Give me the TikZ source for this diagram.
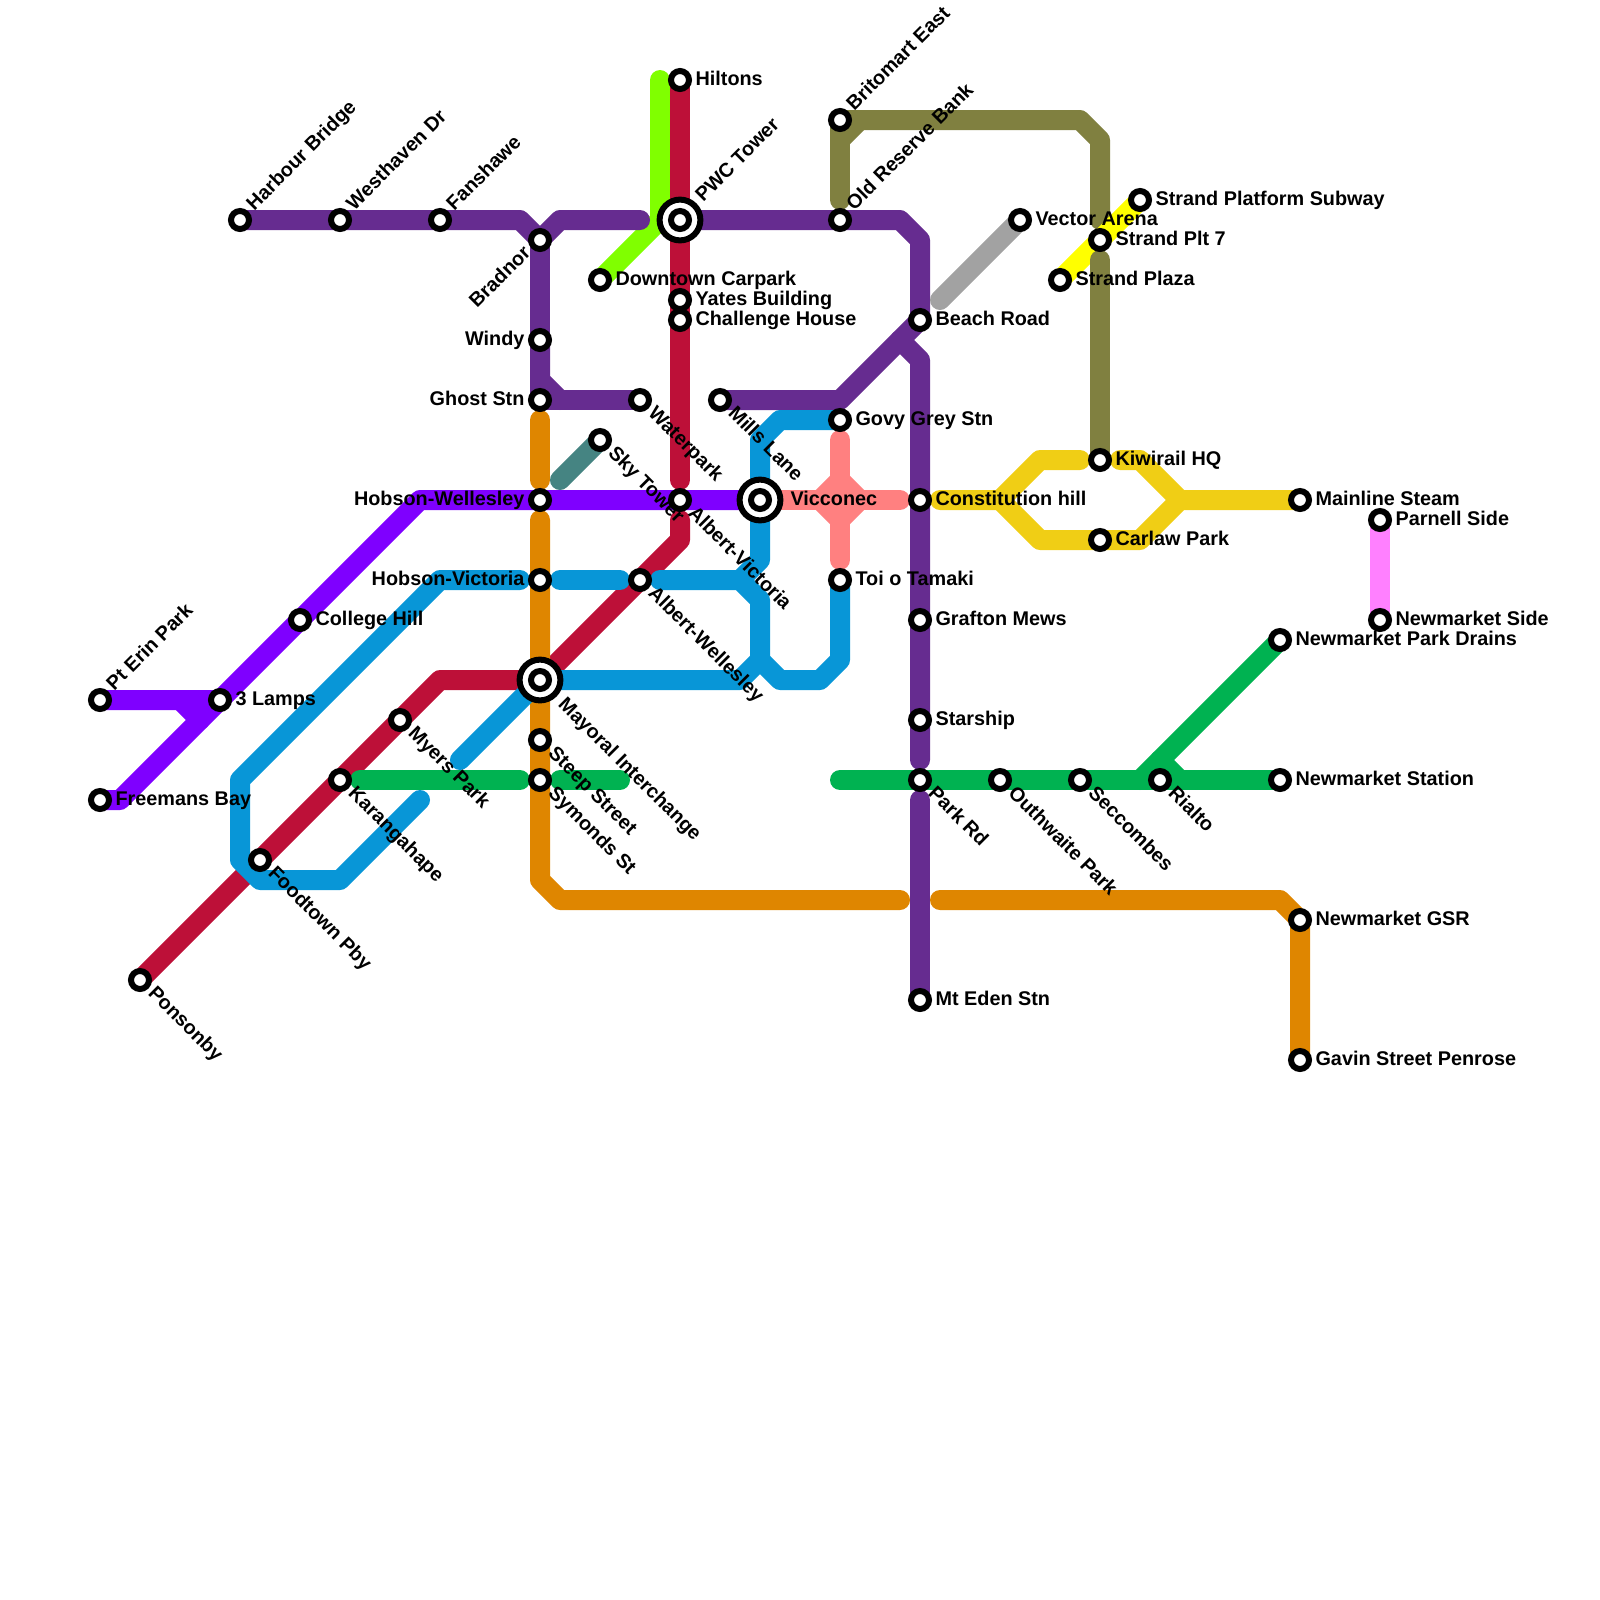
\documentclass[tikz,border=0pt]{standalone}
\usepackage{fontspec}
\setmainfont{Liberation Sans}
\usepackage{xcolor}
\usepackage{tikz}
\usetikzlibrary{positioning}
\definecolor{Plum}{HTML}{662C90}
\definecolor{Violet}{HTML}{7F00FF}
\definecolor{Crimson}{HTML}{BD1038}
\definecolor{Sea}{HTML}{0896D7}
\definecolor{Amber}{HTML}{DF8600}
\definecolor{Leaf}{HTML}{00B251}
\definecolor{Gold}{HTML}{F0CE15}
\definecolor{Olive}{HTML}{808040}
\definecolor{Salmon}{HTML}{FF8080}
\definecolor{Stone}{HTML}{A2A2A2}
\definecolor{Pine}{HTML}{458482}
\definecolor{Lime}{HTML}{80FF00}
\definecolor{Lemon}{HTML}{FFFF00}
\definecolor{Orchid}{HTML}{FF80FF}
\pgfdeclarelayer{lines}
\pgfdeclarelayer{names}
\pgfsetlayers{lines,main,names}
\tikzset{
  route/.style={line width=2.5mm,line cap=round,line join=round},
  halt/.style={circle,draw=black,fill=white,line width=.75mm,minimum size=2.25mm,inner sep=0pt,outer sep=0pt},
  hub/.style={circle,draw=black,fill=white,line width=.75mm,minimum size=5.1mm,inner sep=0pt,outer sep=0pt},
  lbl/.style={font=\fontsize{7.05}{8}\selectfont\bfseries,inner sep=0pt},
  lblE/.style={lbl,shift={(0.75,0.27)},anchor=base west},
  lblW/.style={lbl,shift={(-0.75,0.27)},anchor=base east},
  lblNE/.style={lbl,shift={(0.7,-0.42)},rotate=45,anchor=base west},
  lblSE/.style={lbl,shift={(0.35,0.7)},rotate=-45,anchor=base west},
  lblSW/.style={lbl,shift={(-0.4,0.7)},rotate=45,anchor=base east},
  lblHubE/.style={lbl,shift={(1.5,0.27)},anchor=base west},
  lblHubNE/.style={lbl,shift={(1.15,-0.85)},rotate=45,anchor=base west},
  lblHubSE/.style={lbl,shift={(0.85,1.25)},rotate=-45,anchor=base west}
}
\newcommand{\stn}[5]{%
  \node[halt] (#1) at (#2,#3) {};
  \begin{pgfonlayer}{names}\node[#4] (#1-name) at (#1) {#5};\end{pgfonlayer}}
\newcommand{\hubstn}[5]{%
  \node[hub] (#1) at (#2,#3) {};
  \node[halt] (#1-in) at (#1) {};
  \begin{pgfonlayer}{names}\node[#4] (#1-name) at (#1) {#5};\end{pgfonlayer}}

\begin{document}
\begin{tikzpicture}[x=2.5mm,y=-2.5mm]
    \useasboundingbox (0,0) rectangle (80,80);
    \stn{harbour}{12}{11}{lblNE}{Harbour Bridge}
    \stn{westhaven}{17}{11}{lblNE}{Westhaven Dr}
    \stn{fanshawe}{22}{11}{lblNE}{Fanshawe}
    \stn{bradnor}{27}{12}{lblSW}{Bradnor}
    \stn{windy}{27}{17}{lblW}{Windy}
    \stn{ghost}{27}{20}{lblW}{Ghost Stn}
    \stn{hobwell}{27}{25}{lblW}{Hobson-Wellesley}
    \stn{hobvic}{27}{29}{lblW}{Hobson-Victoria}
    \hubstn{mayoral}{27}{34}{lblHubSE}{Mayoral Interchange}
    \stn{steep}{27}{37}{lblSE}{Steep Street}
    \stn{symonds}{27}{39}{lblSE}{Symonds St}
    \stn{waterpark}{32}{20}{lblSE}{Waterpark}
    \stn{sky}{30}{22}{lblSE}{Sky Tower}
    \stn{downtown}{30}{14}{lblE}{Downtown Carpark}
    \stn{hiltons}{34}{4}{lblE}{Hiltons}
    \hubstn{pwc}{34}{11}{lblHubNE}{PWC Tower}
    \stn{yates}{34}{15}{lblE}{Yates Building}
    \stn{challenge}{34}{16}{lblE}{Challenge House}
    \stn{albvic}{34}{25}{lblSE}{Albert-Victoria}
    \stn{albwell}{32}{29}{lblSE}{Albert-Wellesley}
    \stn{mills}{36}{20}{lblSE}{Mills Lane}
    \hubstn{vicconec}{38}{25}{lblHubE}{Vicconec}
    \stn{govy}{42}{21}{lblE}{Govy Grey Stn}
    \stn{toi}{42}{29}{lblE}{Toi o Tamaki}
    \stn{britomart}{42}{6}{lblNE}{Britomart East}
    \stn{oldbank}{42}{11}{lblNE}{Old Reserve Bank}
    \stn{beach}{46}{16}{lblE}{Beach Road}
    \stn{constitution}{46}{25}{lblE}{Constitution hill}
    \stn{grafton}{46}{31}{lblE}{Grafton Mews}
    \stn{starship}{46}{36}{lblE}{Starship}
    \stn{parkrd}{46}{39}{lblSE}{Park Rd}
    \stn{mteden}{46}{50}{lblE}{Mt Eden Stn}
    \stn{outhwaite}{50}{39}{lblSE}{Outhwaite Park}
    \stn{seccombes}{54}{39}{lblSE}{Seccombes}
    \stn{rialto}{58}{39}{lblSE}{Rialto}
    \stn{nmstation}{64}{39}{lblE}{Newmarket Station}
    \stn{nmdrains}{64}{32}{lblE}{Newmarket Park Drains}
    \stn{nmgsr}{65}{46}{lblE}{Newmarket GSR}
    \stn{gavin}{65}{53}{lblE}{Gavin Street Penrose}
    \stn{parnell}{69}{26}{lblE}{Parnell Side}
    \stn{nmside}{69}{31}{lblE}{Newmarket Side}
    \stn{mainline}{65}{25}{lblE}{Mainline Steam}
    \stn{kiwirail}{55}{23}{lblE}{Kiwirail HQ}
    \stn{carlaw}{55}{27}{lblE}{Carlaw Park}
    \stn{plt}{55}{12}{lblE}{Strand Plt 7}
    \stn{plaza}{53}{14}{lblE}{Strand Plaza}
    \stn{subway}{57}{10}{lblE}{Strand Platform Subway}
    \stn{vector}{51}{11}{lblE}{Vector Arena}
    \stn{pterin}{5}{35}{lblNE}{Pt Erin Park}
    \stn{lamps}{11}{35}{lblE}{3 Lamps}
    \stn{college}{15}{31}{lblE}{College Hill}
    \stn{freemans}{5}{40}{lblE}{Freemans Bay}
    \stn{ponsonby}{7}{49}{lblSE}{Ponsonby}
    \stn{foodtown}{13}{43}{lblSE}{Foodtown Pby}
    \stn{karanga}{17}{39}{lblSE}{Karangahape}
    \stn{myers}{20}{36}{lblSE}{Myers Park}
    \foreach \id/\x/\y in {pa/26/11,pb/28/11,pc/32/11,pd/27/19,pe/28/20,pf/45/11,pg/46/12,ph/42/20,
        pi/45/17,pj/46/18,pk/46/38,pl/46/40,
        va/9/35,vb/10/36,vc/6/40,vd/21/25,
        ra/34/24,rb/34/26,rc/34/27,rd/22/34,
        ba/26/29,bb/22/29,bc/12/39,bd/12/43,be/13/44,bf/17/44,bg/21/40,bh/28/29,bi/31/29,bj/33/29,
        bk/37/29,bl/38/30,bm/38/33,bn/37/34,bo/23/38,bp/39/34,bq/41/34,br/42/33,bs/38/28,bt/38/22,bu/39/21,
        aa/27/21,ab/27/24,ac/27/26,ad/27/44,ae/28/45,af/45/45,ag/47/45,ah/64/45,
        ca/18/39,cb/26/39,cc/28/39,cd/31/39,ce/42/39,cf/57/39,cg/58/38,ch/59/39,
        da/47/25,db/50/25,dc/52/23,dd/54/23,de/52/27,df/57/27,dg/59/25,dh/56/23,di/57/23,
        oa/54/6,ob/55/7,oc/55/11,od/42/10,oe/42/7,of/43/6,og/55/13,
        ka/45/25,kb/42/22,kc/42/28,kd/41/25,ke/42/24,kf/43/25,kg/42/26,
        la/33/4,lb/33/11,ta/28/24,sa/47/15}
      \coordinate (\id) at (\x,\y);
    \begin{pgfonlayer}{lines}
      \draw[route,Lime] (la) -- (lb) -- (downtown.center);
      \draw[route,Crimson] (hiltons.center) -- (pwc.center) -- (yates.center) -- (challenge.center) -- (ra);
      \draw[route,Crimson] (rb) -- (rc) -- (albwell.center) -- (mayoral.center) -- (rd) -- (myers.center) -- (karanga.center) -- (foodtown.center) -- (ponsonby.center);
      \draw[route,Plum] (harbour.center) -- (westhaven.center) -- (fanshawe.center) -- (pa) -- (bradnor.center) -- (pb) -- (pc);
      \draw[route,Plum] (bradnor.center) -- (windy.center) -- (ghost.center) -- (waterpark.center);
      \draw[route,Plum] (windy.center) -- (pd) -- (pe);
      \draw[route,Plum] (pwc.center) -- (oldbank.center) -- (pf) -- (pg) -- (beach.center) -- (ph) -- (mills.center);
      \draw[route,Plum] (pi) -- (pj) -- (constitution.center) -- (grafton.center) -- (starship.center) -- (pk);
      \draw[route,Plum] (pl) -- (mteden.center);
      \draw[route,Violet] (pterin.center) -- (lamps.center) -- (college.center) -- (vd) -- (hobwell.center) -- (albvic.center) -- (vicconec.center);
      \draw[route,Violet] (freemans.center) -- (vc) -- (lamps.center);
      \draw[route,Violet] (va) -- (vb);
      \draw[route,Amber] (aa) -- (ab);
      \draw[route,Amber] (ac) -- (hobvic.center) -- (mayoral.center) -- (steep.center) -- (symonds.center) -- (ad) -- (ae) -- (af);
      \draw[route,Amber] (ag) -- (ah) -- (nmgsr.center) -- (gavin.center);
      \draw[route,Sea] (ba) -- (bb) -- (bc) -- (bd) -- (be) -- (bf) -- (bg);
      \draw[route,Sea] (bh) -- (bi);
      \draw[route,Sea] (bj) -- (bk) -- (bl) -- (bm) -- (bn) -- (mayoral.center) -- (bo);
      \draw[route,Sea] (bm) -- (bp) -- (bq) -- (br) -- (toi.center);
      \draw[route,Sea] (bk) -- (bs) -- (vicconec.center) -- (bt) -- (bu) -- (govy.center);
      \draw[route,Leaf] (ca) -- (cb);
      \draw[route,Leaf] (cc) -- (cd);
      \draw[route,Leaf] (ce) -- (parkrd.center) -- (outhwaite.center) -- (seccombes.center) -- (rialto.center) -- (nmstation.center);
      \draw[route,Leaf] (nmdrains.center) -- (cf);
      \draw[route,Leaf] (cg) -- (ch);
      \draw[route,Gold] (da) -- (db) -- (dc) -- (dd);
      \draw[route,Gold] (db) -- (de) -- (carlaw.center) -- (df) -- (dg) -- (mainline.center);
      \draw[route,Gold] (dh) -- (di) -- (dg);
      \draw[route,Olive] (britomart.center) -- (oa) -- (ob) -- (oc);
      \draw[route,Olive] (britomart.center) -- (od);
      \draw[route,Olive] (oe) -- (of);
      \draw[route,Lemon] (plaza.center) -- (plt.center) -- (subway.center);
      \draw[route,Olive] (og) -- (kiwirail.center);
      \draw[route,Salmon] (vicconec.center) -- (ka);
      \draw[route,Salmon] (kb) -- (kc);
      \draw[route,Salmon] (kd) -- (ke) -- (kf) -- (kg) -- cycle;
      \draw[route,Pine] (ta) -- (sky.center);
      \draw[route,Stone] (sa) -- (vector.center);
      \draw[route,Orchid] (parnell.center) -- (nmside.center);
    \end{pgfonlayer}
  \end{tikzpicture}
\end{document}
